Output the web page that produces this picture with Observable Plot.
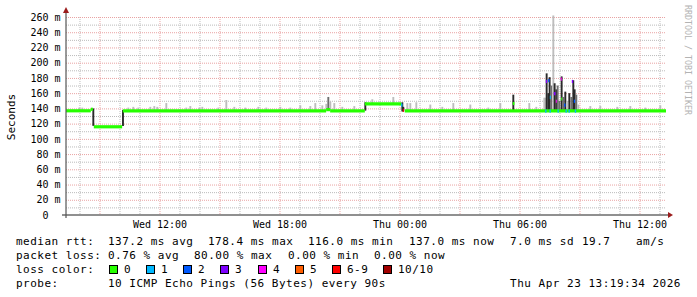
<!DOCTYPE html>
<html><head><meta charset="utf-8">
<script src="https://cdn.jsdelivr.net/npm/d3@7"></script>
<script src="https://cdn.jsdelivr.net/npm/@observablehq/plot@0.6"></script>
<style>
html,body{margin:0;padding:0;background:#fff}
svg{display:block}
</style>
</head><body><div id="chart"></div>
<script>
// ---------- data ----------
const rangeStart = "04-22 07:19:34";
const rangeEnd = "04-23 13:19:34";
const yTicks = [0,20,40,60,80,100,120,140,160,180,200,220,240,260];
const yMinorTicks = [10,30,50,70,90,110,130,150,170,190,210,230,250];
const xLabelTicks = ["04-22 12:00","04-22 18:00","04-23 00:00","04-23 06:00","04-23 12:00"];

const lossLabels = ["0","1","2","3","4","5","6-9","10/10"];
const lossColors = ["#26ff00","#00b8ff","#0059ff","#7e00ff","#ff00ff","#ff5e00","#ff0000","#a10000"];
const lossBoxX = [109,146,183,220,258,295,332,383];

// median rtt segments (ms) and loss class index
const medStart = ["04-22 07:19:34","04-22 08:34","04-22 08:43","04-22 10:10","04-22 20:20","04-22 20:32","04-22 22:16","04-23 00:05","04-23 00:10","04-23 00:16",
  "04-23 05:40","04-23 07:19","04-23 07:17","04-23 07:26","04-23 07:31","04-23 07:30","04-23 07:43","04-23 07:49","04-23 07:54","04-23 08:04","04-23 08:05","04-23 08:14","04-23 08:18","04-23 08:27","04-23 08:37","04-23 08:43","04-23 08:46"];
const medEnd = ["04-22 08:34","04-22 08:40","04-22 10:08","04-22 20:20","04-22 20:32","04-22 22:16","04-23 00:05","04-23 00:09","04-23 00:13","04-23 13:19:34",
  "04-23 05:45","04-23 07:23","04-23 07:21","04-23 07:30","04-23 07:34","04-23 07:34","04-23 07:48","04-23 07:52","04-23 07:58","04-23 08:07","04-23 08:08","04-23 08:18","04-23 08:22","04-23 08:31","04-23 08:41","04-23 08:47","04-23 08:50"];
const medValue = [137.5,139.5,116.5,137.5,139,137.5,146.5,145,138,137.5,
  147,176,137,177,155,137,160,150,137,179,153,145,137,137,176,150,137];
const medLoss = [0,0,0,0,0,0,0,1,6,0,
  0,3,1,2,1,1,3,4,1,4,0,2,1,1,3,2,1];

// smoke: ping spread per sample (ms), shade 0 light .. 2 dark
const smokeTime = ["04-22 08:40","04-22 10:09","04-22 22:16","04-23 00:07","04-23 00:10",
  "04-22 07:58","04-22 08:07","04-22 10:25","04-22 10:40","04-22 10:55","04-22 11:31","04-22 11:43","04-22 11:52","04-22 12:19","04-22 13:19","04-22 13:31","04-22 13:58","04-22 14:07","04-22 14:55","04-22 15:19","04-22 15:43","04-22 16:16","04-22 16:55","04-22 17:19","04-22 18:01","04-22 18:31","04-22 19:01","04-22 19:31","04-22 19:46","04-22 20:07","04-22 20:19","04-22 20:25","04-22 20:31","04-22 20:43","04-22 21:07","04-22 21:43","04-22 22:37","04-22 23:40",
  "04-23 00:22","04-23 00:31","04-23 00:49","04-23 01:31","04-23 02:07","04-23 02:40","04-23 03:31","04-23 04:25","04-23 05:01","04-23 05:40","04-23 06:28","04-23 06:49","04-23 07:13",
  "04-23 07:16","04-23 07:20","04-23 07:25","04-23 07:29","04-23 07:34","04-23 07:40","04-23 07:44","04-23 07:49","04-23 07:53","04-23 07:58","04-23 08:05","04-23 08:10","04-23 08:16","04-23 08:22","04-23 08:28","04-23 08:34","04-23 08:40","04-23 08:44","04-23 08:49","04-23 08:55",
  "04-23 09:31","04-23 10:01","04-23 10:52","04-23 11:31","04-23 12:16","04-23 13:01"];
const smokeLow = [117,117,137,136,136,
  138,138,138,138,138,138,138,138,138,138,138,138,138,138,138,138,138,138,138,138,138,138,138,138,138,138,138,138,138,138,138,147,147,
  138,138,138,138,138,138,138,138,138,137,138,138,138,
  137,137,137,137,137,137,137,137,137,137,137,137,137,137,137,137,137,137,137,137,
  138,138,138,138,138,138];
const smokeHigh = [140,138,148,148,142,
  141,141,141,142,141,142,143,142,147,141,143,141,142,141,151,142,141,142,141,142,141,144,143,147,144,146,155,149,147,142,143,152,155,
  147,147,148,145,142,147,145,141,147,158,147,142,154,
  154,186,160,181,170,262,173,165,170,150,182,155,162,150,160,155,177,165,158,145,
  143,143,142,143,141,144];
const smokeShade = [2,2,2,2,2,
  0,0,0,0,0,0,0,0,0,0,0,0,0,0,0,0,0,0,0,0,0,0,0,0,0,0,1,0,0,0,0,0,0,
  0,0,0,0,0,0,0,0,0,2,0,0,0,
  0,2,2,2,1,0,2,2,1,1,2,1,2,0,2,1,2,2,1,0,
  0,0,0,0,0,0];
const shadeColors = ["#bdbdbd","#6e6e6e","#2a2a2a"];

// legend text
const legendRtt = [["median rtt:",16],["137.2 ms avg",108],["178.4 ms max",208],["116.0 ms min",308],["137.0 ms now",409],["7.0 ms sd",510],["19.7",582],["am/s",636]];
const legendLoss = [["packet loss:",16],["0.76 % avg",108],["80.00 % max",194],["0.00 % min",288],["0.00 % now",374]];
const probeText = "10 ICMP Echo Pings (56 Bytes) every 90s";
const stampText = "Thu Apr 23 13:19:34 2026";

// ---------- build ----------
const T = s => { const [d, t] = s.split(" "); return new Date(`2026-${d}T${t.length === 5 ? t + ":00" : t}Z`); };
const x0 = T(rangeStart), x1 = T(rangeEnd);

const median = medStart.map((s, i) => ({t1: T(s), t2: T(medEnd[i]), v: medValue[i], c: lossColors[medLoss[i]]}));
const smoke = smokeTime.map((s, i) => ({t: T(s), lo: smokeLow[i], hi: smokeHigh[i], c: shadeColors[smokeShade[i]]}));
const hours = d3.utcHour.range(d3.utcHour.ceil(x0), x1);
const majorHours = hours.filter(d => d.getUTCHours() % 3 === 0);
const minorHours = hours.filter(d => d.getUTCHours() % 3 !== 0);

const mono = "'DejaVu Sans Mono', 'Liberation Mono', monospace";

const chart = Plot.plot({
  width: 697, height: 297,
  marginLeft: 66, marginRight: 31, marginTop: 17, marginBottom: 82,
  x: {type: "utc", domain: [x0, x1]},
  y: {domain: [0, 260]},
  style: {fontFamily: mono, fontSize: "10px", color: "#000", background: "#fff", overflow: "visible"},
  marks: [
    Plot.ruleY(yMinorTicks, {stroke: "#bbb", strokeDasharray: "1,1", strokeOpacity: 1}),
    Plot.ruleX(minorHours, {stroke: "#bbb", strokeDasharray: "1,1"}),
    Plot.ruleY(yTicks.filter(d => d > 0), {stroke: "#e9a3a3", strokeDasharray: "1,1"}),
    Plot.ruleX(majorHours, {stroke: "#e9a3a3", strokeDasharray: "1,1"}),
    Plot.ruleX(smoke, {x: "t", y1: "lo", y2: "hi", stroke: "c", strokeWidth: 1.9}),
    Plot.ruleY(median, {x1: "t1", x2: "t2", y: "v", stroke: "c", strokeWidth: 3.2}),
    Plot.axisY(yTicks, {tickSize: 0, tickPadding: 6, fontSize: 10, fontFamily: mono,
      tickFormat: d => d === 0 ? "0\u00a0\u00a0" : d + "\u00a0m"}),
    Plot.axisX(xLabelTicks.map(T), {tickSize: 0, tickPadding: 5, fontSize: 10, fontFamily: mono,
      tickFormat: d3.utcFormat("%a %H:%M")})
  ]
});
document.getElementById("chart").appendChild(chart);

// ---------- decorations ----------
const svg = d3.select(chart);
const xs = chart.scale("x"), ys = chart.scale("y");
const X0 = xs.apply(x0), X1 = xs.apply(x1), Y0 = ys.apply(0), Ytop = ys.apply(260);
const g = svg.append("g");
g.append("line").attr("x1", X0 - 4).attr("x2", X1 + 4).attr("y1", Y0).attr("y2", Y0).attr("stroke", "#222").attr("stroke-width", 1.2);
g.append("line").attr("x1", X0).attr("x2", X0).attr("y1", Y0 + 3).attr("y2", Ytop - 7).attr("stroke", "#555").attr("stroke-width", 1.2);
g.append("path").attr("d", `M${X0},${Ytop - 10}L${X0 - 3},${Ytop - 4}L${X0 + 3},${Ytop - 4}Z`).attr("fill", "#9b1c1c");
g.append("path").attr("d", `M${X1 + 7},${Y0}L${X1 + 2},${Y0 - 3}L${X1 + 2},${Y0 + 3}Z`).attr("fill", "#9b1c1c");

g.append("text").attr("transform", `translate(11,${(Y0 + Ytop) / 2 + 1}) rotate(-90)`)
  .attr("text-anchor", "middle").attr("dominant-baseline", "central")
  .attr("font-family", mono).attr("font-size", 11).attr("fill", "#000").text("Seconds");
g.append("text").attr("transform", `translate(688,5) rotate(90)`)
  .attr("text-anchor", "start").attr("dominant-baseline", "central")
  .attr("font-family", mono).attr("font-size", 8.3).attr("fill", "#b3b3b3").text("RRDTOOL / TOBI OETIKER");

const lg = svg.append("g").attr("font-family", mono).attr("font-size", 11).attr("letter-spacing", 0.5).attr("fill", "#000")
  .attr("text-anchor", "start").style("white-space", "pre");
legendRtt.forEach(([s, x]) => lg.append("text").attr("x", x).attr("y", 245).text(s));
legendLoss.forEach(([s, x]) => lg.append("text").attr("x", x).attr("y", 259).text(s));
lg.append("text").attr("x", 16).attr("y", 273).text("loss color:");
lossLabels.forEach((s, i) => {
  lg.append("rect").attr("x", lossBoxX[i] + 0.5).attr("y", 265.5).attr("width", 8).attr("height", 8)
    .attr("fill", lossColors[i]).attr("stroke", "#000").attr("stroke-width", 1);
  lg.append("text").attr("x", lossBoxX[i] + 15).attr("y", 273).text(s);
});
lg.append("text").attr("x", 16).attr("y", 287).text("probe:");
lg.append("text").attr("x", 108).attr("y", 287).text(probeText);
lg.append("text").attr("x", 681).attr("y", 287).attr("text-anchor", "end").text(stampText);
</script>
</body></html>
